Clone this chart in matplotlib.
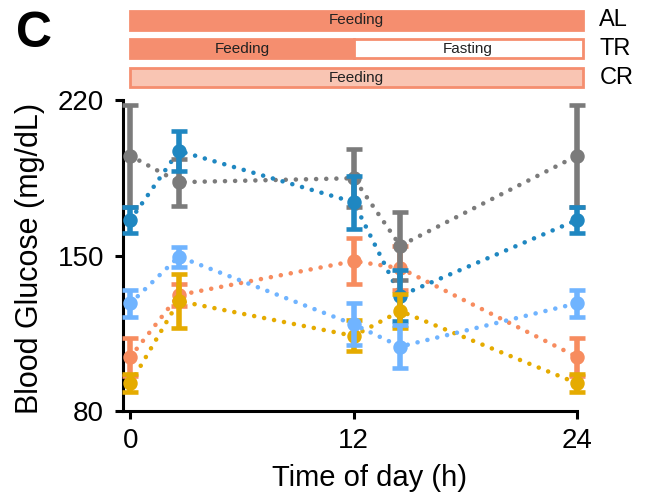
import matplotlib
matplotlib.use("Agg")
import matplotlib.pyplot as plt
from matplotlib.patches import Rectangle

# ---- data -------------------------------------------------------------
time_h = [0, 2.6, 12, 14.5, 24]

gray_mean = [194.9, 183.0, 184.8, 154.4, 194.9]
gray_err = [23.0, 10.5, 13.0, 15.4, 23.0]

dblue_mean = [166.0, 197.1, 174.0, 131.9, 166.0]
dblue_err = [6.0, 9.0, 12.0, 11.5, 6.0]

lblue_mean = [128.5, 149.5, 119.0, 109.0, 128.5]
lblue_err = [6.0, 4.5, 9.5, 9.8, 6.0]

orange_mean = [104.4, 132.2, 147.5, 144.3, 104.4]
orange_err = [8.5, 5.0, 10.3, 10.0, 8.5]

yellow_mean = [92.5, 129.5, 113.8, 125.0, 92.5]
yellow_err = [4.0, 12.0, 7.0, 7.5, 4.0]

x_ticks = [0, 12, 24]
y_ticks = [80, 150, 220]

regimens = ["AL", "TR", "CR"]
schedule = {
    "AL": [(0, 24, "Feeding")],
    "TR": [(0, 12, "Feeding"), (12, 24, "Fasting")],
    "CR": [(0, 24, "Feeding")],
}

# ---- style -------------------------------------------------------------
plt.rcParams["font.family"] = ["Liberation Sans", "DejaVu Sans"]

C_GRAY = "#7b7b7b"
C_DBLUE = "#1f87c1"
C_LBLUE = "#70b4ff"
C_ORANGE = "#f78c5f"
C_YELLOW = "#e5ab00"

SALMON = "#f58e6f"
SALMON_LIGHT = "#f9c5b3"

fig = plt.figure(figsize=(6.52, 4.99), dpi=100)
W, H = 652, 499

ax_left, ax_right, ax_top_px, ax_bot_px = 123, 577, 100, 411
ax = fig.add_axes([ax_left / W, 1 - ax_bot_px / H,
                   (ax_right - ax_left) / W, (ax_bot_px - ax_top_px) / H])

series = [
    (orange_mean, orange_err, C_ORANGE),
    (gray_mean, gray_err, C_GRAY),
    (dblue_mean, dblue_err, C_DBLUE),
    (yellow_mean, yellow_err, C_YELLOW),
    (lblue_mean, lblue_err, C_LBLUE),
]

for m, e, c in series:
    ax.plot(time_h, m, color=c, lw=3.3, linestyle=(0, (0.01, 2.2)),
            dash_capstyle="round", zorder=2, clip_on=False)
for i, (m, e, c) in enumerate(series):
    cont = ax.errorbar(time_h, m, yerr=e, fmt="o", color=c, ms=9.4,
                       elinewidth=4.0, capsize=6.0, capthick=3.3,
                       zorder=3 + i, clip_on=False)
    for cap in cont[1]:
        cap.set_clip_on(False)
    for bar in cont[2]:
        bar.set_clip_on(False)

ax.set_xlim(-0.4, 24)
ax.set_ylim(80, 220)
ax.set_xticks(x_ticks)
ax.set_yticks(y_ticks)
ax.tick_params(axis="both", labelsize=20, width=2.2, color="black")
ax.tick_params(axis="x", length=6, pad=6)
ax.tick_params(axis="y", length=5.5, pad=8)
for side in ("top", "right"):
    ax.spines[side].set_visible(False)
for side in ("left", "bottom"):
    ax.spines[side].set_linewidth(2.2)

ax.set_xlabel("Time of day (h)", fontsize=21)
ax.xaxis.set_label_coords((370 - ax_left) / (ax_right - ax_left),
                          -(478 - ax_bot_px) / (ax_bot_px - ax_top_px))
ax.xaxis.label.set_va("center")
ax.set_ylabel("Blood Glucose (mg/dL)", fontsize=22)
ax.yaxis.set_label_coords(-(ax_left - 30) / (ax_right - ax_left), 0.49)
ax.yaxis.label.set_va("center")

# ---- feeding schedule bars -------------------------------------------------
bar_top_px, bar_bot_px = 8, 90
axb = fig.add_axes([ax_left / W, 1 - bar_bot_px / H,
                    (ax_right - ax_left) / W, (bar_bot_px - bar_top_px) / H])
axb.set_xlim(-0.4, 24)
axb.set_ylim(bar_bot_px - bar_top_px, 0)
axb.axis("off")

row_h = 19
row_y0 = [2.7, 31.3, 60.3]
overhang = 0.3
for r, name in enumerate(regimens):
    y0 = row_y0[r]
    for (s, t, label) in schedule[name]:
        end = t + (overhang if t == 24 else 0)
        if name == "CR":
            fc, ec = SALMON_LIGHT, SALMON
        elif label == "Fasting":
            fc, ec = "white", SALMON
        else:
            fc, ec = SALMON, SALMON
        axb.add_patch(Rectangle((s, y0), end - s, row_h, facecolor=fc,
                                edgecolor=ec, lw=2.0, clip_on=False))
        axb.text((s + end) / 2, y0 + row_h / 2, label, ha="center",
                 va="center", fontsize=11, color="#222222")
    axb.text(25.2, y0 + row_h / 2, name, ha="left", va="center",
             fontsize=17, color="black", clip_on=False)

fig.text(16 / W, 1 - 34 / H, "C", fontsize=36, fontweight="bold",
         ha="left", va="center")

fig.savefig("out.png", dpi=100)
